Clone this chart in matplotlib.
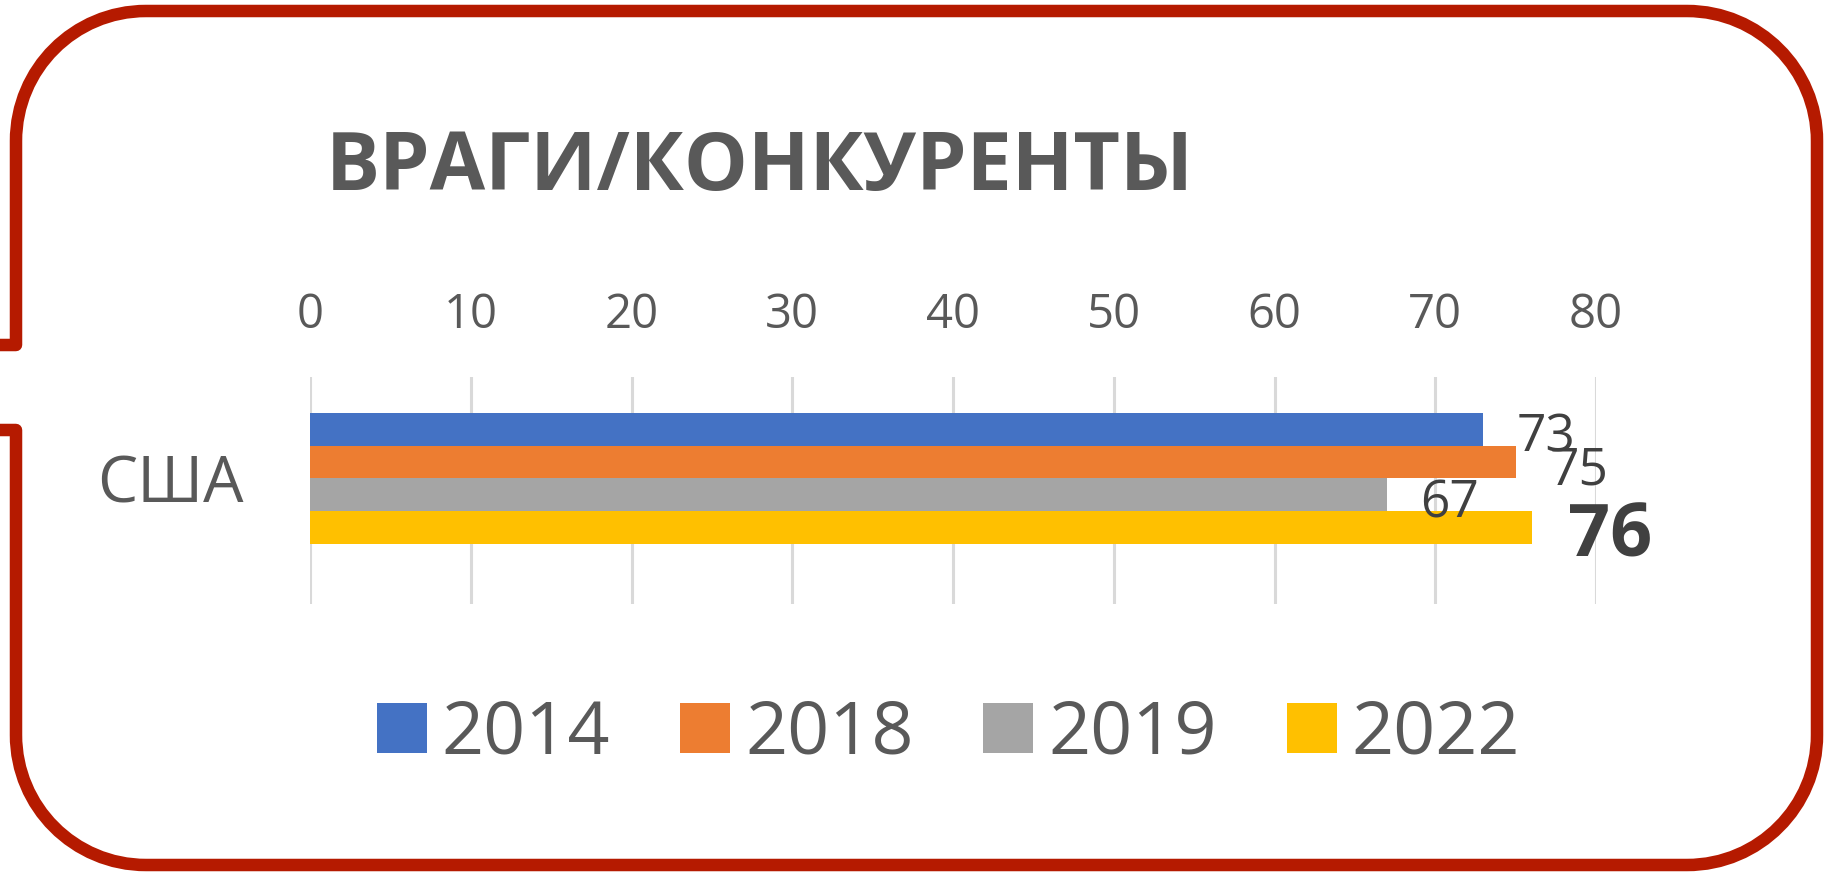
import matplotlib
matplotlib.use("Agg")
import matplotlib.pyplot as plt
from matplotlib.path import Path
from matplotlib.patches import PathPatch

# данные
years = ["2014", "2018", "2019", "2022"]
values = [73, 75, 67, 76]
colors = ["#4472C4", "#ED7D31", "#A5A5A5", "#FFC000"]
category = "США"
title = "ВРАГИ/КОНКУРЕНТЫ"
xticks = [0, 10, 20, 30, 40, 50, 60, 70, 80]

W, H = 1828, 874
plt.rcParams['font.family'] = ['Open Sans', 'DejaVu Sans']

fig = plt.figure(figsize=(W / 100, H / 100), dpi=100)
fig.patch.set_facecolor("white")


def fx(px):
    return px / W


def fy(py):
    return 1 - py / H


# рамка (скруглённая, с "хвостом" слева)
r = 130
k = 0.5523 * r
L, T, R, B = 16, 11, 1817, 865
pts = [
    (0, 345), (L, 345), (L, T + r),
    (L, T + r - k), (L + r - k, T), (L + r, T),
    (R - r, T),
    (R - r + k, T), (R, T + r - k), (R, T + r),
    (R, B - r),
    (R, B - r + k), (R - r + k, B), (R - r, B),
    (L + r, B),
    (L + r - k, B), (L, B - r + k), (L, B - r),
    (L, 430), (0, 430),
]
codes = [Path.MOVETO, Path.LINETO, Path.LINETO,
         Path.CURVE4, Path.CURVE4, Path.CURVE4,
         Path.LINETO,
         Path.CURVE4, Path.CURVE4, Path.CURVE4,
         Path.LINETO,
         Path.CURVE4, Path.CURVE4, Path.CURVE4,
         Path.LINETO,
         Path.CURVE4, Path.CURVE4, Path.CURVE4,
         Path.LINETO, Path.LINETO]
border = Path([(fx(x), fy(y)) for x, y in pts], codes)
fig.patches.append(PathPatch(border, transform=fig.transFigure, fill=False,
                             edgecolor="#B51A00", linewidth=9, capstyle="butt",
                             joinstyle="round"))

# оси
ax_l, ax_r, ax_t, ax_b = 310, 1596, 377, 604
ax = fig.add_axes([fx(ax_l), fy(ax_b), fx(ax_r - ax_l), (ax_b - ax_t) / H])

bar_h = 0.2
offsets = [-0.3, -0.1, 0.1, 0.3]
handles = []
for yr, v, c, off in zip(years, values, colors, offsets):
    b = ax.barh(0 + off, v, height=bar_h, color=c, label=yr, zorder=3)
    handles.append(b)

ax.set_xlim(0, 80)
ax.set_ylim(0.766, -0.618)
ax.set_xticks(xticks)
ax.set_yticks([0])
ax.set_yticklabels([category])
ax.xaxis.tick_top()
ax.tick_params(axis="x", length=0, pad=27, labelsize=34, labelcolor="#595959")
ax.tick_params(axis="y", length=0, pad=48, labelsize=46, labelcolor="#595959")
ax.grid(axis="x", color="#D9D9D9", linewidth=2.2, zorder=0)
for s in ax.spines.values():
    s.set_visible(False)

# подписи значений
for v, off, i in zip(values, offsets, range(len(values))):
    if i == len(values) - 1:
        ax.annotate(str(v), xy=(v, off), xytext=(78, -10), textcoords="offset pixels",
                    ha="center", va="center", fontsize=53, fontweight="bold", color="#404040")
    else:
        ax.annotate(str(v), xy=(v, off), xytext=(63, -9), textcoords="offset pixels",
                    ha="center", va="center", fontsize=37, color="#404040")

# заголовок
fig.text(fx(326), fy(190), title, ha="left", va="baseline", fontsize=58,
         fontweight="bold", color="#595959")

# легенда
leg = fig.legend(handles, years, loc="center left", bbox_to_anchor=(fx(377), fy(735)),
                 ncol=4, frameon=False, fontsize=53, handlelength=0.68, handleheight=0.68,
                 handletextpad=0.2, columnspacing=0.95, borderpad=0, borderaxespad=0)
for t in leg.get_texts():
    t.set_color("#595959")

fig.savefig("out.png", dpi=100, facecolor="white")
